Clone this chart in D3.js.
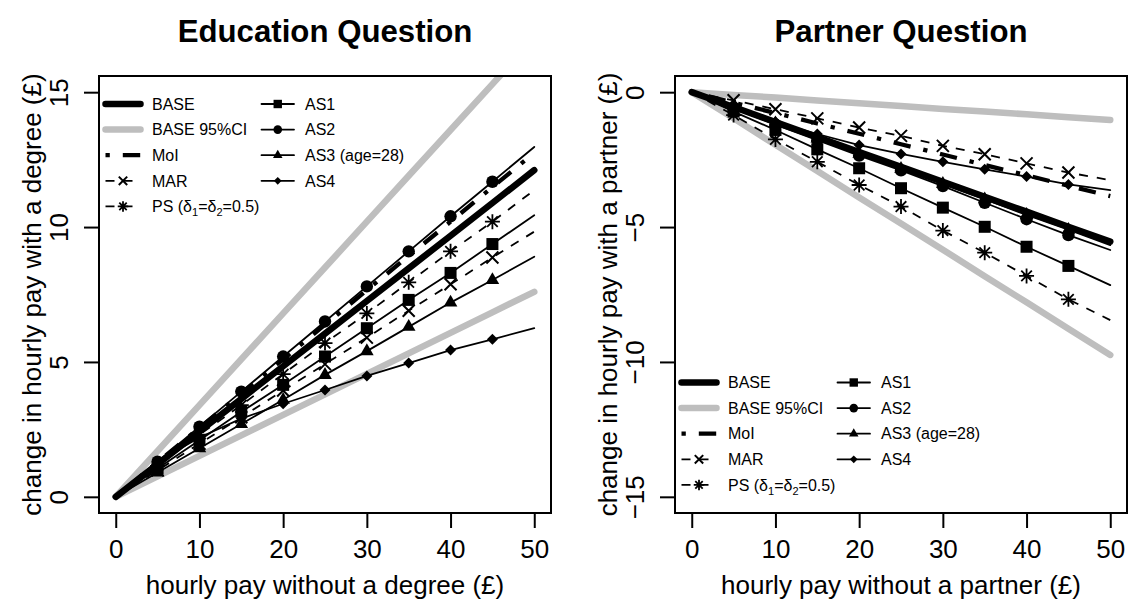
<!DOCTYPE html>
<html><head><meta charset="utf-8">
<script src="https://cdn.jsdelivr.net/npm/d3@7"></script>
<style>body{margin:0;background:#fff} svg{display:block} text{font-family:"Liberation Sans",Arial,Helvetica,sans-serif}</style>
</head><body><svg id="c" width="1128" height="606"></svg>
<script>
// ---------- data ----------
const xVals = [0, 5, 10, 15, 20, 25, 30, 35, 40, 45, 50];
const xTicks = [0, 10, 20, 30, 40, 50];
const xTickLabels = ["0", "10", "20", "30", "40", "50"];

// Education question
const eduTicks = [0, 5, 10, 15];
const eduTickLabels = ["0", "5", "10", "15"];
const eduBASE = [0, 1.21, 2.42, 3.63, 4.84, 6.05, 7.26, 8.47, 9.68, 10.89, 12.11];
const eduCIhi = [0, 1.7, 3.4, 5.1, 6.8, 8.5, 10.2, 11.9, 13.6, 15.3, 17.0];
const eduCIlo = [0, 0.76, 1.52, 2.28, 3.04, 3.8, 4.56, 5.32, 6.08, 6.84, 7.6];
const eduMoI = [0, 1.28, 2.56, 3.83, 5.1, 6.38, 7.66, 8.93, 10.2, 11.48, 12.75];
const eduMAR = [0, 0.98, 1.97, 2.95, 3.94, 4.92, 5.9, 6.9, 7.88, 8.87, 9.83];
const eduPS = [0, 1.15, 2.3, 3.4, 4.55, 5.7, 6.8, 7.95, 9.1, 10.2, 11.37];
const eduAS1 = [0, 1.05, 2.1, 3.15, 4.15, 5.2, 6.25, 7.3, 8.3, 9.37, 10.44];
const eduAS2 = [0, 1.3, 2.6, 3.9, 5.2, 6.5, 7.8, 9.1, 10.4, 11.68, 12.97];
const eduAS3 = [0, 0.9, 1.8, 2.7, 3.6, 4.52, 5.4, 6.3, 7.2, 8.04, 8.9];
const eduAS4 = [0, 1.3, 2.2, 2.9, 3.45, 3.96, 4.48, 4.96, 5.44, 5.84, 6.25];

// Partner question
const ptnTicks = [0, -5, -10, -15];
const ptnTickLabels = ["0", "\u22125", "\u221210", "\u221215"];
const ptnBASE = [0, -0.55, -1.11, -1.66, -2.22, -2.77, -3.32, -3.88, -4.43, -4.99, -5.54];
const ptnCIhi = [0, -0.1, -0.2, -0.31, -0.41, -0.51, -0.62, -0.72, -0.82, -0.93, -1.03];
const ptnCIlo = [0, -0.97, -1.95, -2.92, -3.9, -4.87, -5.84, -6.82, -7.79, -8.77, -9.74];
const ptnMoI = [0, -0.39, -0.77, -1.16, -1.54, -1.93, -2.31, -2.7, -3.08, -3.47, -3.85];
const ptnMAR = [0, -0.3, -0.63, -0.97, -1.31, -1.62, -1.99, -2.3, -2.64, -2.98, -3.26];
const ptnPS = [0, -0.85, -1.75, -2.58, -3.44, -4.24, -5.13, -5.95, -6.81, -7.68, -8.45];
const ptnAS1 = [0, -0.72, -1.4, -2.12, -2.82, -3.56, -4.28, -4.99, -5.73, -6.44, -7.15];
const ptnAS2 = [0, -0.6, -1.2, -1.78, -2.35, -2.9, -3.48, -4.1, -4.71, -5.3, -5.85];
const ptnAS3 = [0, -0.58, -1.15, -1.72, -2.28, -2.84, -3.4, -3.97, -4.55, -5.1, -5.67];
const ptnAS4 = [0, -0.6, -1.1, -1.55, -1.96, -2.29, -2.58, -2.86, -3.13, -3.42, -3.63];

const legendCol1 = ["BASE", "BASE 95%CI", "MoI", "MAR", "PS"];
const legendCol2 = ["AS1", "AS2", "AS3 (age=28)", "AS4"];

// ---------- styles ----------
const styles = {
  "BASE":       {color: "#000", w: 6.5, dash: null, mk: null},
  "BASE 95%CI": {color: "#BEBEBE", w: 6.5, dash: null, mk: null},
  "MoI":        {color: "#000", w: 4.3, dash: "4.3,13,17.4,13", mk: null},
  "MAR":        {color: "#000", w: 1.8, dash: "9,9", mk: "x"},
  "PS":         {color: "#000", w: 1.8, dash: "9,9", mk: "star"},
  "AS1":        {color: "#000", w: 1.8, dash: null, mk: "square"},
  "AS2":        {color: "#000", w: 1.8, dash: null, mk: "circle"},
  "AS3 (age=28)": {color: "#000", w: 1.8, dash: null, mk: "triangle"},
  "AS4":        {color: "#000", w: 1.8, dash: null, mk: "diamond"}
};

const svg = d3.select("#c");
const FONT = 26;
const plotTop = 76, plotBottom = 513, plotW = 452;

function drawMarker(g, type, cx, cy, s) {
  if (!type) return;
  if (type === "square") {
    g.append("rect").attr("x", cx - 6 * s).attr("y", cy - 6 * s).attr("width", 12 * s).attr("height", 12 * s).attr("fill", "#000");
  } else if (type === "circle") {
    g.append("circle").attr("cx", cx).attr("cy", cy).attr("r", 6.2 * s).attr("fill", "#000");
  } else if (type === "triangle") {
    g.append("path").attr("d", `M${cx},${cy - 7.8 * s}L${cx + 6.8 * s},${cy + 4 * s}L${cx - 6.8 * s},${cy + 4 * s}Z`).attr("fill", "#000");
  } else if (type === "diamond") {
    g.append("path").attr("d", `M${cx},${cy - 5.5 * s}L${cx + 5.5 * s},${cy}L${cx},${cy + 5.5 * s}L${cx - 5.5 * s},${cy}Z`).attr("fill", "#000");
  } else if (type === "x") {
    const r = 6 * s;
    g.append("path").attr("d", `M${cx - r},${cy - r}L${cx + r},${cy + r}M${cx - r},${cy + r}L${cx + r},${cy - r}`)
      .attr("stroke", "#000").attr("stroke-width", 2).attr("fill", "none");
  } else if (type === "star") {
    const r = 7.5 * s, d = 5.3 * s;
    g.append("path").attr("d", `M${cx - r},${cy}L${cx + r},${cy}M${cx},${cy - r}L${cx},${cy + r}M${cx - d},${cy - d}L${cx + d},${cy + d}M${cx - d},${cy + d}L${cx + d},${cy - d}`)
      .attr("stroke", "#000").attr("stroke-width", 1.8).attr("fill", "none");
  }
}

function panel(cfg, idx) {
  const L = cfg.left;
  const x = d3.scaleLinear().domain([-2, 52]).range([L, L + plotW]);
  const y = d3.scaleLinear().domain(cfg.yDomain).range([plotBottom, plotTop]);
  const g = svg.append("g");

  svg.append("clipPath").attr("id", "clip" + idx).append("rect")
    .attr("x", L).attr("y", plotTop).attr("width", plotW).attr("height", plotBottom - plotTop);
  const plot = g.append("g").attr("clip-path", `url(#clip${idx})`);

  const line = d3.line().x((d, i) => x(xVals[i])).y(d => y(d));
  const order = ["BASE 95%CI", "BASE", "MoI", "MAR", "PS", "AS1", "AS2", "AS3 (age=28)", "AS4"];
  order.forEach(name => {
    const st = styles[name];
    cfg.series[name].forEach(arr => {
      plot.append("path").datum(arr).attr("d", line).attr("fill", "none")
        .attr("stroke", st.color).attr("stroke-width", st.w)
        .attr("stroke-dasharray", st.dash)
        .attr("stroke-linecap", st.dash ? "butt" : "round")
        .attr("stroke-linejoin", "round");
      if (st.mk) {
        arr.forEach((v, i) => {
          if (i > 0 && i < arr.length - 1) drawMarker(plot, st.mk, x(xVals[i]), y(v), 1);
        });
      }
    });
  });

  // box
  g.append("rect").attr("x", L).attr("y", plotTop).attr("width", plotW).attr("height", plotBottom - plotTop)
    .attr("fill", "none").attr("stroke", "#000").attr("stroke-width", 2);

  // x axis
  const xa = g.append("g").attr("transform", `translate(0,${plotBottom})`)
    .call(d3.axisBottom(x).tickValues(xTicks).tickSize(15).tickFormat((d, i) => xTickLabels[i]));
  xa.select(".domain").remove();
  xa.selectAll("line").attr("stroke-width", 2);
  xa.selectAll("text").attr("y", 45).attr("dy", 0).attr("font-size", FONT)
    .attr("font-family", '"Liberation Sans",Arial,sans-serif').attr("fill", "#000");

  // y axis
  const ya = g.append("g").attr("transform", `translate(${L},0)`)
    .call(d3.axisLeft(y).tickValues(cfg.yTicks).tickSize(15).tickFormat((d, i) => cfg.yTickLabels[i]));
  ya.select(".domain").remove();
  ya.selectAll("line").attr("stroke-width", 2);
  ya.selectAll("text").attr("x", 0).attr("y", 0).attr("dy", 0)
    .attr("transform", "translate(-31,0) rotate(-90)").attr("text-anchor", "middle")
    .attr("font-size", FONT).attr("font-family", '"Liberation Sans",Arial,sans-serif').attr("fill", "#000");

  // titles
  const cx = L + plotW / 2;
  g.append("text").attr("x", cx).attr("y", 42).attr("text-anchor", "middle")
    .attr("font-size", 31.2).attr("font-weight", "bold").text(cfg.title);
  g.append("text").attr("x", cx).attr("y", 594).attr("text-anchor", "middle")
    .attr("font-size", FONT).text(cfg.xlab);
  g.append("text").attr("transform", `translate(${L - 58},${(plotTop + plotBottom) / 2}) rotate(-90)`)
    .attr("text-anchor", "middle").attr("font-size", FONT).text(cfg.ylab);

  // legend
  const lg = g.append("g");
  const rowH = 25.6;
  const cols = [
    {names: legendCol1, x0: L + 6.5, x1: L + 41.5, tx: L + 53},
    {names: legendCol2, x0: L + 162.5, x1: L + 195, tx: L + 206}
  ];
  cols.forEach(col => {
    col.names.forEach((name, r) => {
      const yy = cfg.legendTop + r * rowH;
      const st = styles[name];
      lg.append("line").attr("x1", col.x0).attr("x2", col.x1).attr("y1", yy).attr("y2", yy)
        .attr("stroke", st.color).attr("stroke-width", st.w)
        .attr("stroke-dasharray", st.dash)
        .attr("stroke-linecap", st.dash ? "butt" : "round");
      drawMarker(lg, st.mk, (col.x0 + col.x1) / 2, yy, 0.7);
      const t = lg.append("text").attr("x", col.tx).attr("y", yy).attr("dy", "0.36em").attr("font-size", 16);
      if (name === "PS") {
        t.append("tspan").text("PS (\u03B4");
        t.append("tspan").attr("font-size", 11).attr("dy", 4).text("1");
        t.append("tspan").attr("dy", -4).text("=\u03B4");
        t.append("tspan").attr("font-size", 11).attr("dy", 4).text("2");
        t.append("tspan").attr("dy", -4).text("=0.5)");
      } else {
        t.text(name);
      }
    });
  });
}

panel({
  left: 99, title: "Education Question",
  xlab: "hourly pay without a degree (\u00A3)",
  ylab: "change in hourly pay with a degree (\u00A3)",
  yDomain: [-0.6, 15.6], yTicks: eduTicks, yTickLabels: eduTickLabels,
  legendTop: 104,
  series: {
    "BASE": [eduBASE], "BASE 95%CI": [eduCIhi, eduCIlo], "MoI": [eduMoI], "MAR": [eduMAR], "PS": [eduPS],
    "AS1": [eduAS1], "AS2": [eduAS2], "AS3 (age=28)": [eduAS3], "AS4": [eduAS4]
  }
}, 0);

panel({
  left: 675, title: "Partner Question",
  xlab: "hourly pay without a partner (\u00A3)",
  ylab: "change in hourly pay with a partner (\u00A3)",
  yDomain: [-15.6, 0.6], yTicks: ptnTicks, yTickLabels: ptnTickLabels,
  legendTop: 382.5,
  series: {
    "BASE": [ptnBASE], "BASE 95%CI": [ptnCIhi, ptnCIlo], "MoI": [ptnMoI], "MAR": [ptnMAR], "PS": [ptnPS],
    "AS1": [ptnAS1], "AS2": [ptnAS2], "AS3 (age=28)": [ptnAS3], "AS4": [ptnAS4]
  }
}, 1);
</script></body></html>
